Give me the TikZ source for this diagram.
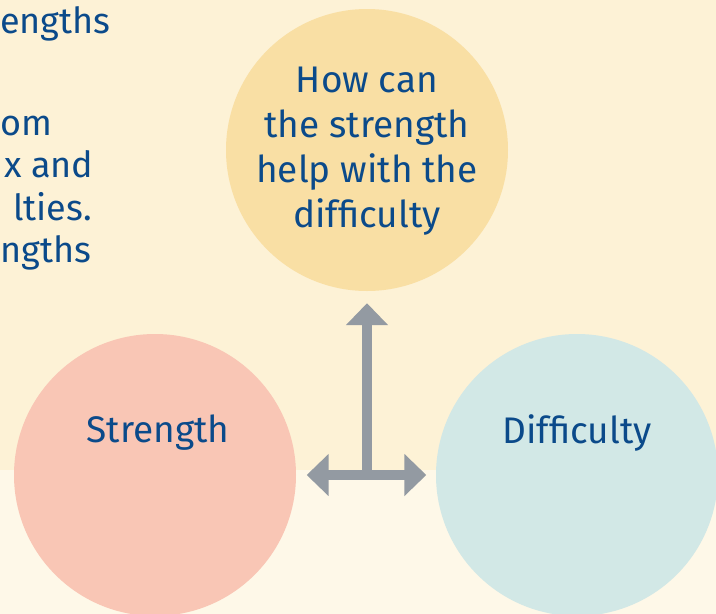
\documentclass[tikz,border=0pt]{standalone}
\usepackage{fontspec}
\setmainfont{Fira Sans}
\usetikzlibrary{arrows.meta}
\definecolor{ink}{HTML}{0B4A8A}
\definecolor{bgtop}{HTML}{FDF2D6}
\definecolor{bgbottom}{HTML}{FEF8E8}
\definecolor{qfill}{HTML}{F9DFA4}
\definecolor{sfill}{HTML}{F9C6B5}
\definecolor{dfill}{HTML}{D2E8E6}
\definecolor{arrowgrey}{HTML}{939AA2}
\tikzset{bigtip/.tip={Triangle[width=41pt,length=22pt]}}
\begin{document}
\begin{tikzpicture}[x=1pt,y=-1pt,
  bubble/.style={circle, minimum size=282pt, inner sep=0pt, draw=none},
  lbl/.style={text=ink, font=\fontsize{37}{45}\selectfont, inner sep=0pt},
  bodytext/.style={text=ink, font=\fontsize{36}{42}\selectfont, inner sep=0pt, anchor=base west},
  link/.style={draw=arrowgrey, line width=9.4pt}
]
\useasboundingbox (0,0) rectangle (716,614);
\clip (0,0) rectangle (716,614);

% two-tone page background
\fill[bgtop] (0,0) rectangle (716,470);
\fill[bgbottom] (0,470) rectangle (716,614);

% running text along the left edge
\node[bodytext] (t1) at (0,33) {engths};
\node[bodytext] (t2) at (0,135) {om};
\node[bodytext] (t3) at (4,177) {x and};
\node[bodytext] (t4) at (13,220) {lties.};
\node[bodytext] (t5) at (0,262) {ngths};

% the three circles
\node[bubble, fill=qfill] (q) at (367,150) {};
\node[bubble, fill=sfill] (s) at (155,475) {};
\node[bubble, fill=dfill] (d) at (577,475) {};

% circle labels
\node[lbl, align=center] (qt) at ([yshift=-1pt]q.center) {How can\\the strength\\help with the\\difficulty};
\node[lbl] (st) at ([xshift=3pt,yshift=42pt]s.center) {Strength};
\node[lbl] (dt) at ([yshift=42pt]d.center) {Difficulty};

% connecting arrows
\coordinate (hub) at (367,475);
\draw[link, bigtip-bigtip, shorten <=10.5pt, shorten >=9.5pt] (s.east) -- (d.west);
\draw[link, -bigtip, shorten >=12pt] (hub) -- (q.south);
\end{tikzpicture}
\end{document}
